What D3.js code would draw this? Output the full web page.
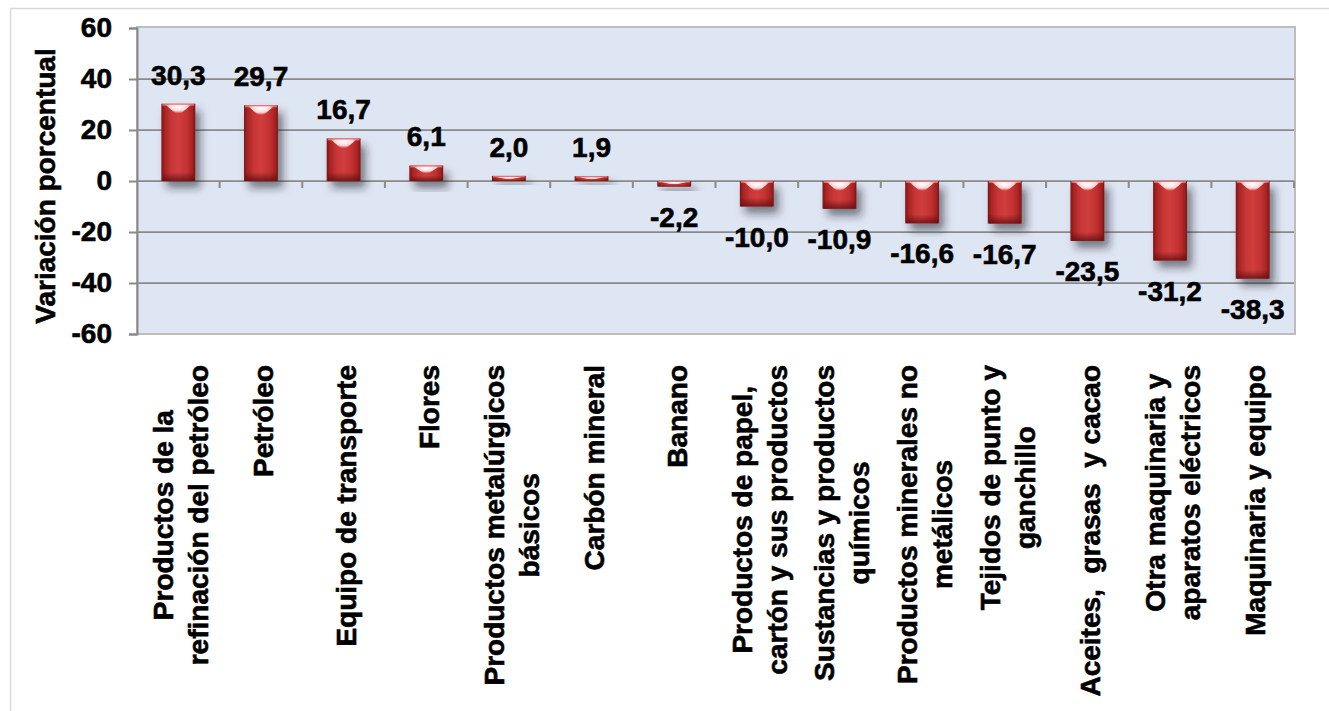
<!DOCTYPE html>
<html>
<head>
<meta charset="utf-8">
<script src="https://cdn.jsdelivr.net/npm/d3@7"></script>
<style>
  html, body { margin: 0; padding: 0; background: #ffffff; }
  svg { display: block; }
  text { font-family: "Liberation Sans", Arial, sans-serif; font-weight: 700; fill: #000; stroke: #000; stroke-width: 0.6px; }
</style>
</head>
<body>
<svg id="chart" width="1329" height="711"></svg>
<script>
// ---- data ----
const categories = [
  "Productos de la\nrefinación del petróleo",
  "Petróleo",
  "Equipo de transporte",
  "Flores",
  "Productos metalúrgicos\nbásicos",
  "Carbón mineral",
  "Banano",
  "Productos de papel,\ncartón y sus productos",
  "Sustancias y productos\nquímicos",
  "Productos minerales no\nmetálicos",
  "Tejidos de punto y\nganchillo",
  "Aceites,  grasas  y cacao",
  "Otra maquinaria y\naparatos eléctricos",
  "Maquinaria y equipo"
];
const values = [30.3, 29.7, 16.7, 6.1, 2.0, 1.9, -2.2, -10.0, -10.9, -16.6, -16.7, -23.5, -31.2, -38.3];
const yTicks = [-60, -40, -20, 0, 20, 40, 60];
const yTitle = "Variación porcentual";

// ---- layout ----
const W = 1329, H = 711;
const plot = { left: 137, right: 1294, top: 28, bottom: 334 };
const fontSize = 28;

const svg = d3.select("#chart");
const defs = svg.append("defs");

// gradients
const hg = defs.append("linearGradient").attr("id", "barH").attr("x1", "0").attr("x2", "1").attr("y1", "0").attr("y2", "0");
[["0%", "#7e1616"], ["10%", "#a82424"], ["30%", "#c73636"], ["50%", "#d03d3d"], ["75%", "#c23232"], ["92%", "#a52222"], ["100%", "#7a1414"]]
  .forEach(([o, c]) => hg.append("stop").attr("offset", o).attr("stop-color", c));

const hi = defs.append("radialGradient").attr("id", "hiGrad").attr("cx", "0.5").attr("cy", "0.2").attr("r", "0.6");
hi.append("stop").attr("offset", "0%").attr("stop-color", "#ffffff").attr("stop-opacity", 1);
hi.append("stop").attr("offset", "60%").attr("stop-color", "#ffe8e8").attr("stop-opacity", 0.9);
hi.append("stop").attr("offset", "100%").attr("stop-color", "#ffcccc").attr("stop-opacity", 0);

const bot = defs.append("linearGradient").attr("id", "botGrad").attr("x1", "0").attr("x2", "0").attr("y1", "0").attr("y2", "1");
bot.append("stop").attr("offset", "0%").attr("stop-color", "#5a0c0c").attr("stop-opacity", 0);
bot.append("stop").attr("offset", "100%").attr("stop-color", "#5a0c0c").attr("stop-opacity", 0.75);

const shadow = defs.append("filter").attr("id", "shadow").attr("x", "-50%").attr("y", "-50%").attr("width", "220%").attr("height", "220%");
shadow.append("feDropShadow").attr("dx", 5).attr("dy", 7).attr("stdDeviation", 4.5)
  .attr("flood-color", "#1a1a2a").attr("flood-opacity", 0.55);

// outer frame
svg.append("rect").attr("x", 10.5).attr("y", 8.5).attr("width", W).attr("height", H)
  .attr("fill", "#ffffff").attr("stroke", "#d9d9d9").attr("stroke-width", 1.5);

// scales
const x = d3.scaleBand().domain(categories).range([plot.left, plot.right]).paddingInner(0.59).paddingOuter(0.295);
const y = d3.scaleLinear().domain([-60, 60]).range([plot.bottom, plot.top]);

// plot area
svg.append("rect").attr("x", plot.left).attr("y", plot.top - 1)
  .attr("width", plot.right - plot.left + 1).attr("height", plot.bottom - plot.top + 1)
  .attr("fill", "#dfe6f3").attr("stroke", "#bdbdbd").attr("stroke-width", 2);

// gridlines
svg.append("g").selectAll("line").data(yTicks.filter(d => d !== -60 && d !== 60)).join("line")
  .attr("x1", plot.left).attr("x2", plot.right)
  .attr("y1", d => y(d)).attr("y2", d => y(d))
  .attr("stroke", "#8a8a8a").attr("stroke-width", 1.75);

// number format with hyphen minus and decimal comma
const intFmt = d => String(d);
const fmt = v => v.toFixed(1).replace(".", ",");

// y axis
const yAxis = d3.axisLeft(y).tickValues(yTicks).tickSize(8).tickPadding(17).tickFormat(intFmt);
const yg = svg.append("g").attr("transform", `translate(${plot.left},0)`).call(yAxis);
yg.select(".domain").attr("stroke", "#8a8a8a").attr("stroke-width", 2);
yg.selectAll(".tick line").attr("stroke", "#8a8a8a").attr("stroke-width", 2);
yg.selectAll(".tick text").attr("font-size", fontSize).attr("font-family", "Liberation Sans, Arial, sans-serif")
  .attr("font-weight", "700").attr("fill", "#000");

// y title
svg.append("text").attr("transform", `translate(45,186) rotate(-90)`)
  .attr("text-anchor", "middle").attr("dominant-baseline", "central")
  .attr("font-size", fontSize).text(yTitle);

// category tick marks on zero line
const step = x.step();
const boundaries = d3.range(1, categories.length + 1).map(i => plot.left + i * step);
svg.append("g").selectAll("line").data(boundaries).join("line")
  .attr("x1", d => d).attr("x2", d => d).attr("y1", y(0)).attr("y2", y(0) + 7)
  .attr("stroke", "#8a8a8a").attr("stroke-width", 2);

// bars
const bw = x.bandwidth();
const bars = svg.append("g").selectAll("g").data(values).join("g");
bars.each(function (v, i) {
  const g = d3.select(this);
  const x0 = x(categories[i]);
  const top = y(Math.max(0, v));
  const h = Math.abs(y(v) - y(0));
  g.append("rect").attr("x", x0).attr("y", top).attr("width", bw).attr("height", h)
    .attr("fill", "url(#barH)").attr("filter", "url(#shadow)");
  const bh = Math.min(9, h * 0.35);
  g.append("rect").attr("x", x0 + 1).attr("y", top + h - bh).attr("width", bw - 2).attr("height", bh)
    .attr("fill", "url(#botGrad)");
  g.append("rect").attr("x", x0 + 1).attr("y", top).attr("width", bw - 2).attr("height", Math.min(2, h * 0.3))
    .attr("fill", "#f08080").attr("opacity", 0.8);
  const th = Math.min(11, h * 0.55);
  g.append("path")
    .attr("d", `M${x0 + bw * 0.12},${top + 1} L${x0 + bw * 0.88},${top + 1} L${x0 + bw * 0.5},${top + 1 + th} Z`)
    .attr("fill", "url(#hiGrad)");
});

// data labels
svg.append("g").selectAll("text").data(values).join("text")
  .attr("x", (d, i) => x(categories[i]) + bw / 2)
  .attr("y", d => d >= 0 ? y(d) - 19 : y(d) + 40)
  .attr("text-anchor", "middle").attr("font-size", fontSize)
  .text(d => fmt(d));

// category labels
const labelTop = 365, lineGap = 35;
const cl = svg.append("g");
categories.forEach((c, i) => {
  const lines = c.split("\n");
  const cx = x(categories[i]) + bw / 2 + 3;
  const g = cl.append("g").attr("transform", `translate(${cx},${labelTop}) rotate(-90)`);
  const texts = lines.map((ln, k) => g.append("text")
    .attr("font-size", fontSize).attr("text-anchor", "middle")
    .attr("dominant-baseline", "central")
    .style("white-space", "pre")
    .attr("y", (k - (lines.length - 1) / 2) * lineGap)
    .text(ln));
  const maxLen = d3.max(texts, t => t.node().getComputedTextLength());
  texts.forEach(t => t.attr("x", -maxLen / 2));
});
</script>
</body>
</html>
